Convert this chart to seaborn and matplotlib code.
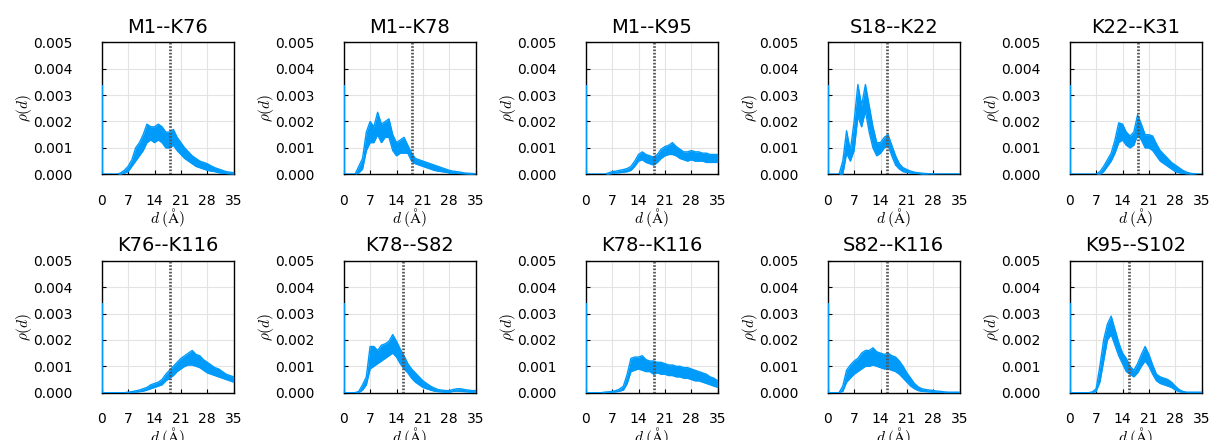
import numpy as np
import matplotlib
matplotlib.use("Agg")
import matplotlib.pyplot as plt
import seaborn as sns

# distance grid (Angstrom) shared by all panels
D = [0, 1, 2, 3, 4, 5, 6, 7, 8, 9, 10, 11, 12, 13, 14, 15, 16, 17,
     18, 19, 20, 21, 22, 23, 24, 25, 26, 27, 28, 29, 30, 31, 32, 33, 34, 35]

PAIRS = ["M1--K76", "M1--K78", "M1--K95", "S18--K22", "K22--K31",
         "K76--K116", "K78--S82", "K78--K116", "S82--K116", "K95--S102"]

# dotted cutoff line per panel (Angstrom)
CUTOFF = [18, 18, 18, 15.8, 18, 18, 15.8, 18, 15.8, 15.8]

# value of the first histogram bin at d = 0 (x 1e-3)
SPIKE = [3.4, 3.4, 3.4, 3.4, 3.4, 3.4, 3.4, 3.4, 3.4, 3.4]

# lower / upper edge of the noisy density band, in units of 1e-3
LO_M1_K76 = [0, 0, 0, 0, 0, 0, 0.05, 0.1, 0.3, 0.5, 0.7, 0.9, 1.2, 1.3, 1.2, 1.3, 1.2, 1.0,
             1.0, 1.1, 0.9, 0.75, 0.6, 0.5, 0.4, 0.3, 0.25, 0.2, 0.15, 0.12, 0.1, 0.06, 0.04, 0.02, 0.01, 0.0]
HI_M1_K76 = [0, 0, 0, 0, 0, 0.05, 0.15, 0.3, 0.55, 1.0, 1.2, 1.5, 1.9, 1.8, 1.8, 1.9, 1.8, 1.6,
             1.6, 1.7, 1.4, 1.2, 1.0, 0.85, 0.7, 0.6, 0.5, 0.45, 0.4, 0.32, 0.25, 0.2, 0.15, 0.1, 0.08, 0.06]

LO_M1_K78 = [0, 0, 0, 0, 0.05, 0.2, 0.9, 1.2, 1.2, 1.5, 1.2, 1.4, 1.4, 0.9, 0.7, 0.8, 0.8, 0.8,
             0.5, 0.4, 0.35, 0.3, 0.25, 0.2, 0.15, 0.12, 0.1, 0.08, 0.05, 0.04, 0.03, 0.02, 0.01, 0, 0, 0]
HI_M1_K78 = [0, 0, 0, 0, 0.3, 0.6, 1.6, 2.0, 1.8, 2.35, 1.9, 2.0, 2.1, 1.5, 1.2, 1.3, 1.4, 1.1,
             0.8, 0.6, 0.55, 0.5, 0.45, 0.4, 0.35, 0.3, 0.25, 0.2, 0.15, 0.12, 0.1, 0.08, 0.05, 0.04, 0.03, 0.02]

LO_M1_K95 = [0, 0, 0, 0, 0, 0, 0, 0.03, 0.05, 0.06, 0.08, 0.1, 0.15, 0.3, 0.5, 0.55, 0.45, 0.4,
             0.35, 0.45, 0.6, 0.7, 0.75, 0.75, 0.7, 0.6, 0.55, 0.5, 0.55, 0.5, 0.5, 0.5, 0.45, 0.45, 0.45, 0.45]
HI_M1_K95 = [0, 0, 0, 0, 0, 0, 0.05, 0.1, 0.12, 0.15, 0.18, 0.22, 0.3, 0.5, 0.75, 0.85, 0.75, 0.7,
             0.65, 0.75, 0.95, 1.05, 1.1, 1.2, 1.05, 0.95, 0.85, 0.85, 0.9, 0.85, 0.85, 0.8, 0.8, 0.75, 0.75, 0.75]

LO_S18_K22 = [0, 0, 0, 0, 0, 0.8, 0.5, 0.9, 2.2, 1.8, 2.4, 1.6, 1.0, 0.7, 0.8, 1.0, 1.1, 0.7,
              0.35, 0.2, 0.1, 0.07, 0.05, 0.03, 0.02, 0, 0, 0, 0, 0, 0, 0, 0, 0, 0, 0]
HI_S18_K22 = [0, 0, 0, 0, 0.5, 1.65, 0.9, 2.0, 3.4, 2.6, 3.4, 2.6, 1.8, 1.2, 1.2, 1.4, 1.5, 1.1,
              0.7, 0.4, 0.25, 0.18, 0.12, 0.08, 0.06, 0.04, 0.03, 0.02, 0.02, 0.01, 0.01, 0.01, 0.01, 0.01, 0.01, 0.01]

LO_K22_K31 = [0, 0, 0, 0, 0, 0, 0, 0, 0, 0.1, 0.3, 0.5, 0.8, 1.2, 1.3, 1.1, 1.0, 1.1,
              1.5, 1.3, 1.0, 1.0, 0.9, 0.7, 0.5, 0.4, 0.3, 0.2, 0.1, 0.06, 0.03, 0.01, 0, 0, 0, 0]
HI_K22_K31 = [0, 0, 0, 0, 0, 0, 0, 0, 0.1, 0.3, 0.55, 0.8, 1.3, 1.95, 1.9, 1.6, 1.45, 1.6,
              2.25, 1.9, 1.5, 1.5, 1.45, 1.15, 0.9, 0.75, 0.6, 0.45, 0.35, 0.25, 0.15, 0.08, 0.04, 0.02, 0, 0]

LO_K76_K116 = [0, 0, 0, 0, 0, 0, 0, 0, 0.01, 0.02, 0.04, 0.06, 0.1, 0.15, 0.2, 0.25, 0.3, 0.45,
               0.55, 0.65, 0.8, 0.9, 1.0, 1.05, 1.05, 1.0, 0.95, 0.85, 0.75, 0.7, 0.65, 0.6, 0.55, 0.5, 0.45, 0.4]
HI_K76_K116 = [0, 0, 0, 0, 0, 0, 0, 0.02, 0.04, 0.07, 0.1, 0.15, 0.2, 0.3, 0.35, 0.4, 0.5, 0.7,
               0.85, 1.0, 1.15, 1.3, 1.4, 1.5, 1.6, 1.45, 1.4, 1.25, 1.15, 1.05, 0.95, 0.9, 0.8, 0.7, 0.65, 0.6]

LO_K78_S82 = [0, 0, 0, 0, 0, 0.1, 0.3, 0.9, 1.0, 1.1, 1.2, 1.3, 1.4, 1.5, 1.35, 1.1, 0.9, 0.75,
              0.55, 0.4, 0.3, 0.2, 0.15, 0.1, 0.06, 0.04, 0.03, 0.02, 0.02, 0.05, 0.06, 0.05, 0.04, 0.03, 0.02, 0.02]
HI_K78_S82 = [0, 0, 0, 0, 0.05, 0.3, 0.6, 1.75, 1.75, 1.6, 1.8, 1.85, 1.95, 2.2, 1.95, 1.65, 1.4, 1.1,
              0.9, 0.75, 0.6, 0.45, 0.35, 0.25, 0.18, 0.12, 0.1, 0.08, 0.08, 0.12, 0.15, 0.15, 0.12, 0.1, 0.08, 0.08]

LO_K78_K116 = [0, 0, 0, 0, 0, 0, 0.01, 0.02, 0.03, 0.06, 0.1, 0.35, 0.8, 0.85, 0.9, 0.85, 0.8, 0.8,
               0.7, 0.75, 0.7, 0.7, 0.65, 0.65, 0.6, 0.6, 0.55, 0.55, 0.5, 0.45, 0.45, 0.4, 0.35, 0.3, 0.25, 0.2]
HI_K78_K116 = [0, 0, 0, 0, 0, 0.02, 0.03, 0.05, 0.08, 0.14, 0.25, 0.7, 1.3, 1.35, 1.35, 1.4, 1.25, 1.2,
               1.2, 1.15, 1.15, 1.1, 1.05, 1.05, 1.0, 1.0, 0.95, 0.95, 0.9, 0.85, 0.8, 0.75, 0.7, 0.6, 0.55, 0.45]

LO_S82_K116 = [0, 0, 0, 0, 0.05, 0.4, 0.55, 0.7, 0.8, 0.9, 1.0, 1.0, 1.05, 1.0, 0.95, 0.9, 0.9, 0.85,
               0.8, 0.7, 0.55, 0.4, 0.25, 0.15, 0.08, 0.05, 0.04, 0.03, 0.02, 0.01, 0.01, 0, 0, 0, 0, 0]
HI_S82_K116 = [0, 0, 0, 0, 0.25, 0.85, 1.05, 1.2, 1.3, 1.5, 1.6, 1.6, 1.7, 1.55, 1.5, 1.45, 1.5, 1.4,
               1.35, 1.2, 1.0, 0.75, 0.55, 0.35, 0.22, 0.15, 0.12, 0.1, 0.08, 0.06, 0.05, 0.03, 0.02, 0.02, 0.02, 0.02]

LO_K95_S102 = [0, 0, 0, 0, 0, 0, 0, 0.05, 0.4, 1.2, 2.0, 2.2, 1.8, 1.4, 1.1, 0.8, 0.7, 0.6,
               0.75, 1.0, 1.2, 1.0, 0.7, 0.45, 0.35, 0.3, 0.25, 0.2, 0.1, 0.04, 0.01, 0, 0, 0, 0, 0]
HI_K95_S102 = [0, 0, 0, 0, 0, 0, 0.03, 0.15, 1.0, 2.0, 2.6, 2.9, 2.4, 1.9, 1.5, 1.3, 1.0, 0.85,
               1.1, 1.45, 1.75, 1.45, 1.05, 0.7, 0.6, 0.55, 0.5, 0.4, 0.25, 0.12, 0.05, 0.02, 0.02, 0.02, 0.02, 0.02]

LOWER = [LO_M1_K76, LO_M1_K78, LO_M1_K95, LO_S18_K22, LO_K22_K31,
         LO_K76_K116, LO_K78_S82, LO_K78_K116, LO_S82_K116, LO_K95_S102]
UPPER = [HI_M1_K76, HI_M1_K78, HI_M1_K95, HI_S18_K22, HI_K22_K31,
         HI_K76_K116, HI_K78_S82, HI_K78_K116, HI_S82_K116, HI_K95_S102]

BLUE = "#009AFA"

sns.set_style("white")
plt.rcParams['font.family'] = ['DejaVu Sans']
plt.rcParams['mathtext.fontset'] = 'cm'
plt.rcParams['text.color'] = 'black'
plt.rcParams['axes.labelcolor'] = 'black'

fig = plt.figure(figsize=(12.11, 4.4), dpi=100)

W, H = 1211.0, 440.0
ax_w, ax_h = 132 / W, 132 / H
lefts = [101.7, 343.7, 585.7, 827.7, 1069.7]
bottoms = [1 - 174.3 / H, 1 - 392.7 / H]

for i, name in enumerate(PAIRS):
    r, c = divmod(i, 5)
    ax = fig.add_axes([lefts[c] / W, bottoms[r], ax_w, ax_h])
    lo = np.array(LOWER[i]) * 1e-3
    hi = np.array(UPPER[i]) * 1e-3
    ax.fill_between(D, lo, hi, color=BLUE, linewidth=0, zorder=3)
    sns.lineplot(x=D, y=hi, ax=ax, color=BLUE, linewidth=1.0, zorder=3)
    sns.lineplot(x=D, y=lo, ax=ax, color=BLUE, linewidth=1.0, zorder=3)
    ax.vlines(0, 0, SPIKE[i] * 1e-3, color=BLUE, linewidth=1.5, zorder=3)
    ax.axvline(CUTOFF[i], color="#555555", linestyle=(0, (0.6, 0.6)), linewidth=2.0, zorder=4)

    ax.set_xlim(0, 35)
    ax.set_ylim(0, 0.005)
    ax.set_xticks([0, 7, 14, 21, 28, 35])
    ax.set_yticks([0, 0.001, 0.002, 0.003, 0.004, 0.005])
    ax.set_yticklabels(["0.000", "0.001", "0.002", "0.003", "0.004", "0.005"])
    ax.grid(True, color="#e3e3e3", linewidth=0.8, zorder=0)
    ax.set_axisbelow(True)
    for sp in ax.spines.values():
        sp.set_color("black")
        sp.set_linewidth(1.0)
    ax.tick_params(direction="in", length=3, width=0.8, labelsize=10, colors="black",
                   left=True, bottom=True)
    ax.tick_params(axis="x", pad=14)
    ax.tick_params(axis="y", pad=21)
    ax.set_title(name, fontsize=14, pad=7, color="black")
    ax.set_xlabel(r"$d\;(\mathrm{\AA})$", fontsize=11, labelpad=-1)
    ax.set_ylabel(r"$\rho(d)$", fontsize=11, labelpad=-1)

fig.savefig("out.png", dpi=100)
